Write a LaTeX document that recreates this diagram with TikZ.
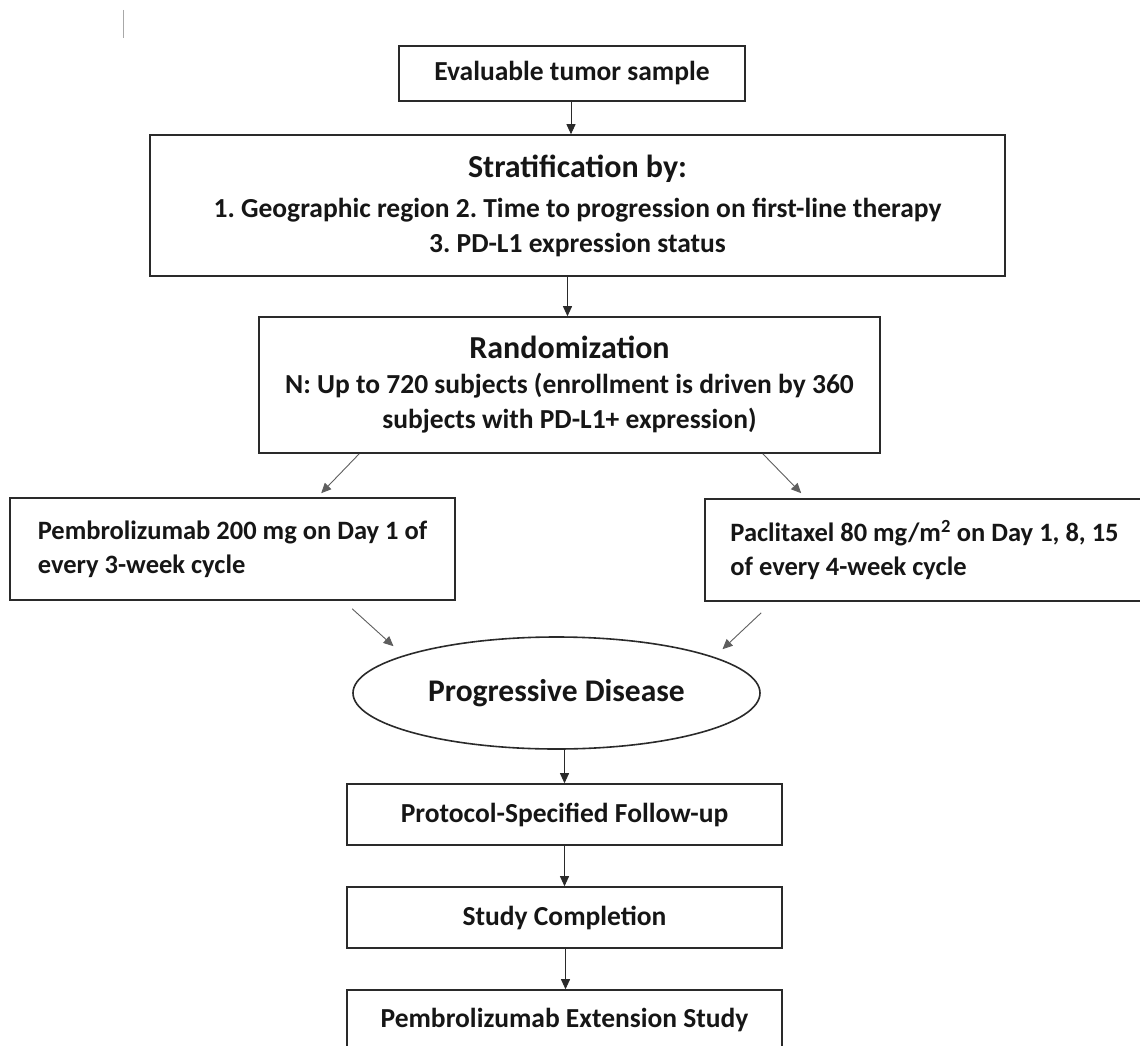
\documentclass[tikz,border=0pt]{standalone}
\usepackage{fontspec}
\setmainfont{Carlito}
\usepackage{tikz}
\usepackage{xcolor}
\usetikzlibrary{arrows.meta,positioning,calc,shapes.geometric}
\frenchspacing
\definecolor{ink}{HTML}{161616}
\definecolor{edge}{HTML}{2A2A2A}
\definecolor{faint}{HTML}{5E5E5E}
\definecolor{smudge}{HTML}{A8A8A8}
\tikzset{
  box/.style={draw=edge, line width=1.6pt, inner sep=0pt, align=center,
              text=ink, font=\bfseries\fontsize{27.5}{35}\selectfont},
  armbox/.style={box, align=left, minimum height=102pt,
                 font=\bfseries\fontsize{26.5}{34}\selectfont},
  pdnode/.style={draw=edge, line width=1.6pt, ellipse, inner sep=0pt,
                 text=ink, font=\bfseries\fontsize{31.5}{36}\selectfont,
                 minimum width=407pt, minimum height=112pt},
  arrow/.style={-{Triangle[length=10pt,width=9pt]}, line width=0.9pt, draw=edge},
  slant/.style={arrow, draw=faint}
}

\begin{document}
\begin{tikzpicture}[x=1pt,y=-1pt]
        \useasboundingbox (0,0) rectangle (1140,1046);
        % stray mark in the scan
        \draw[smudge, line width=1pt] (123,10) -- (123,38);

        \node[box, minimum width=346pt, minimum height=55pt] (sample) at (572,73.5)
          {Evaluable tumor sample};
        \node[box, minimum width=855pt, minimum height=141pt] (strat) at (577.5,205.5)
          {{\fontsize{32}{40}\selectfont Stratification by:}\\[5pt]
           1. Geographic region 2. Time to progression on first-line therapy\\
           3. PD-L1 expression status};
        \node[box, minimum width=621pt, minimum height=136pt] (rand) at (569.5,385)
          {{\fontsize{32}{40}\selectfont Randomization}\\
           N: Up to 720 subjects (enrollment is driven by 360\\
           subjects with PD-L1+ expression)};
        \node[armbox, minimum width=445pt] (pembro) at (232.5,549)
          {Pembrolizumab 200 mg on Day 1 of\\ every 3-week cycle};
        \node[armbox, minimum width=439pt] (pacli) at (924.5,550)
          {Paclitaxel 80 mg/m\textsuperscript{2} on Day 1, 8, 15\\ of every 4-week cycle};
        \node[pdnode] (pd) at (556.5,693) {Progressive Disease};
        \node[box, minimum width=435pt, minimum height=61pt] (follow) at (564.5,814.5)
          {Protocol-Specified Follow-up};
        \node[box, minimum width=435pt, minimum height=61pt] (done) at (564.5,917.5)
          {Study Completion};
        \node[box, minimum width=435pt, minimum height=61pt] (ext) at (564.5,1020.5)
          {Pembrolizumab Extension Study};

        % connectors
        \draw[arrow] ([xshift=-1pt]sample.south) -- ([xshift=-1pt]sample.south |- strat.north);
        \draw[arrow] ([xshift=-10pt]strat.south) -- ([xshift=-10pt]strat.south |- rand.north);
        \draw[slant] ([xshift=101pt]rand.south west) -- ([xshift=312pt,yshift=4pt]pembro.north west);
        \draw[slant] ([xshift=-118pt]rand.south east) -- ([xshift=97pt,yshift=5pt]pacli.north west);
        \draw[slant] ([xshift=343pt,yshift=-8pt]pembro.south west) -- ([xshift=-163pt,yshift=-10pt]pd.north);
        \draw[slant] ([xshift=57pt,yshift=-11pt]pacli.south west) -- ([xshift=166pt,yshift=-13pt]pd.north);
        \draw[arrow] ([xshift=8pt]pd.south) -- ([xshift=8pt]pd.south |- follow.north);
        \draw[arrow] (follow) -- (done);
        \draw[arrow] ([xshift=1pt]done.south) -- ([xshift=1pt]done.south |- ext.north);
      \end{tikzpicture}
\end{document}
